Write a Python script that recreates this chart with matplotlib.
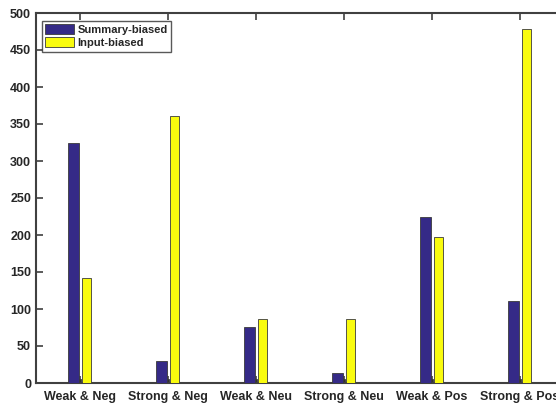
import matplotlib.pyplot as plt
import numpy as np

# Данные
categories = ['Weak & Neg', 'Strong & Neg', 'Weak & Neu', 'Strong & Neu', 'Weak & Pos', 'Strong & Pos']
summary_biased = [325, 30, 76, 14, 224, 111]
input_biased = [142, 361, 87, 87, 197, 478]
shadow = [6, 6, 6, 6, 6, 6]

plt.rcParams['font.family'] = ['Liberation Sans', 'DejaVu Sans']
plt.rcParams['font.weight'] = 'bold'

fig = plt.figure(figsize=(5.56, 4.05), dpi=100)
# ось уходит за правый край картинки, как в оригинале
ax = fig.add_axes([36 / 556, 22 / 405, 528 / 556, 370 / 405])

x = np.arange(1, len(categories) + 1)
edge = '#3a3a3a'
ax.bar(x, shadow, 0.03, color='#303030', edgecolor=edge, linewidth=0.6, zorder=2)
ax.bar(x - 0.074, summary_biased, 0.125, color='#352a87', edgecolor=edge,
       linewidth=0.6, label='Summary-biased', zorder=3)
ax.bar(x + 0.074, input_biased, 0.105, color='#f9fb0e', edgecolor=edge,
       linewidth=0.6, label='Input-biased', zorder=3)

ax.set_xlim(0.5, 6.5)
ax.set_ylim(0, 500)
ax.set_yticks(range(0, 501, 50))
ax.set_xticks(x)
ax.set_xticklabels(categories)
ax.tick_params(axis='both', direction='in', length=5, width=1.2, color='#404040',
               labelsize=9, labelcolor='#262626', top=True, right=False)
ax.tick_params(axis='x', pad=6)
for lab in ax.get_xticklabels() + ax.get_yticklabels():
    lab.set_fontweight('bold')
for s in ['left', 'bottom', 'top']:
    ax.spines[s].set_color('#404040')
    ax.spines[s].set_linewidth(1.5)
ax.spines['right'].set_visible(False)

leg = ax.legend(loc='upper left', bbox_to_anchor=(0.011, 0.978),
                frameon=True, fancybox=False, handlelength=2.6, handleheight=1.0,
                borderpad=0.3, labelspacing=0.2, handletextpad=0.3,
                borderaxespad=0.0, prop={'weight': 'bold', 'size': 8})
leg.get_frame().set_edgecolor('#303030')
leg.get_frame().set_linewidth(1.0)
for t in leg.get_texts():
    t.set_color('#262626')

plt.savefig('out.png', dpi=100)
